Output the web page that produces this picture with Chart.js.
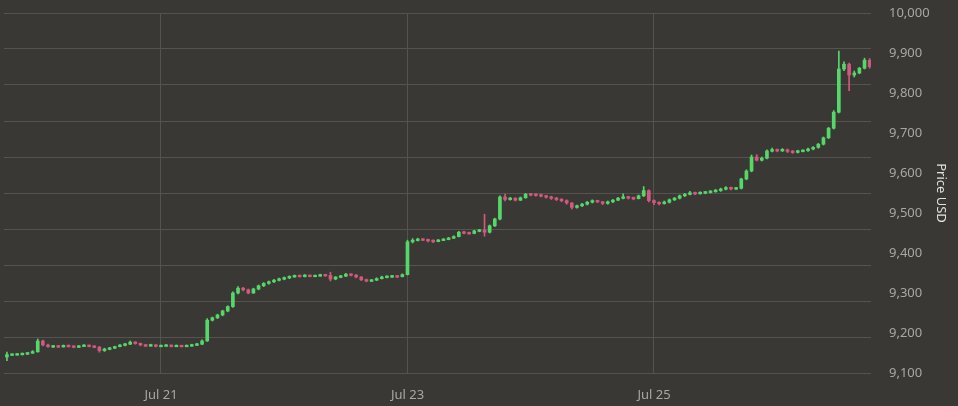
<!DOCTYPE html>
<html>
<head>
<meta charset="utf-8">
<script src="https://cdn.jsdelivr.net/npm/chart.js@4/dist/chart.umd.min.js"></script>
<style>
  html, body { margin: 0; padding: 0; background: #3a3834; }
  #wrap { width: 958px; height: 406px; }
</style>
</head>
<body>
<div id="wrap"><canvas id="chart" width="958" height="406"></canvas></div>
<script>
// hourly candles, first one is Jul 19 18:00 (hours counted from Jul 19 00:00)
const firstHour = 18;

const opens = [
  9140, 9146, 9146, 9147, 9148, 9150, 9153, 9180, 9170, 9166,
  9167, 9166, 9168, 9167, 9165, 9167, 9169, 9167, 9165, 9156,
  9160, 9162, 9166, 9170, 9172, 9177, 9174, 9170, 9168, 9170,
  9167, 9168, 9169, 9167, 9168, 9167, 9168, 9170, 9172, 9180,
  9232, 9238, 9245, 9255, 9266, 9300, 9312, 9308, 9300, 9310,
  9318, 9324, 9328, 9332, 9335, 9338, 9341, 9343, 9342, 9344,
  9342, 9343, 9345, 9344, 9335, 9340, 9342, 9347, 9345, 9340,
  9333, 9330, 9332, 9336, 9340, 9341, 9342, 9341, 9346, 9428,
  9432, 9434, 9433, 9431, 9429, 9432, 9434, 9437, 9441, 9452,
  9450, 9449, 9455, 9457, 9452, 9468, 9485, 9540, 9534, 9537,
  9532, 9538, 9547, 9546, 9545, 9543, 9540, 9537, 9534, 9531,
  9525, 9514, 9518, 9522, 9527, 9531, 9528, 9524, 9528, 9532,
  9537, 9540, 9538, 9536, 9543, 9556, 9531, 9526, 9524, 9527,
  9533, 9537, 9543, 9547, 9550, 9549, 9551, 9552, 9554, 9556,
  9560, 9563, 9561, 9562, 9585, 9605, 9640, 9632, 9637, 9655,
  9658, 9656, 9658, 9654, 9652, 9655, 9656, 9660, 9664, 9672,
  9688, 9712, 9752, 9860, 9872, 9845, 9850, 9862, 9882
];
const highs = [
  9152, 9148, 9149, 9150, 9151, 9156, 9185, 9182, 9172, 9169,
  9169, 9170, 9170, 9168, 9169, 9171, 9170, 9168, 9166, 9162,
  9164, 9167, 9171, 9174, 9180, 9178, 9175, 9171, 9172, 9171,
  9170, 9171, 9170, 9170, 9169, 9170, 9172, 9174, 9183, 9236,
  9240, 9247, 9257, 9268, 9303, 9316, 9314, 9310, 9312, 9320,
  9326, 9330, 9334, 9337, 9340, 9343, 9345, 9345, 9346, 9345,
  9345, 9347, 9347, 9352, 9341, 9344, 9349, 9348, 9346, 9341,
  9335, 9334, 9338, 9342, 9343, 9344, 9344, 9348, 9432, 9436,
  9437, 9436, 9435, 9433, 9434, 9436, 9439, 9443, 9454, 9454,
  9452, 9457, 9459, 9497, 9470, 9487, 9543, 9547, 9539, 9538,
  9540, 9549, 9549, 9548, 9547, 9544, 9542, 9539, 9536, 9533,
  9526, 9520, 9524, 9529, 9533, 9532, 9529, 9530, 9534, 9539,
  9548, 9542, 9540, 9545, 9566, 9558, 9533, 9528, 9530, 9535,
  9539, 9545, 9549, 9554, 9552, 9553, 9554, 9556, 9559, 9562,
  9566, 9565, 9564, 9587, 9608, 9645, 9646, 9640, 9658, 9662,
  9660, 9661, 9660, 9656, 9657, 9658, 9662, 9666, 9674, 9690,
  9714, 9756, 9905, 9878, 9875, 9855, 9864, 9887, 9886
];
const lows = [
  9131, 9144, 9145, 9145, 9146, 9149, 9152, 9168, 9164, 9164,
  9164, 9165, 9165, 9163, 9164, 9166, 9165, 9163, 9152, 9154,
  9158, 9161, 9165, 9168, 9171, 9172, 9168, 9166, 9167, 9165,
  9166, 9167, 9165, 9166, 9165, 9166, 9167, 9169, 9171, 9179,
  9230, 9236, 9243, 9253, 9264, 9298, 9305, 9298, 9299, 9308,
  9316, 9322, 9326, 9330, 9333, 9336, 9339, 9340, 9340, 9340,
  9341, 9342, 9342, 9330, 9333, 9338, 9341, 9343, 9338, 9331,
  9328, 9329, 9331, 9335, 9338, 9339, 9339, 9340, 9345, 9425,
  9430, 9431, 9428, 9426, 9428, 9431, 9433, 9436, 9440, 9448,
  9447, 9448, 9453, 9442, 9450, 9466, 9483, 9530, 9532, 9530,
  9531, 9537, 9543, 9542, 9540, 9537, 9534, 9531, 9528, 9522,
  9510, 9512, 9516, 9520, 9525, 9526, 9521, 9522, 9526, 9531,
  9535, 9535, 9533, 9535, 9541, 9528, 9521, 9520, 9522, 9525,
  9531, 9535, 9541, 9545, 9546, 9547, 9548, 9550, 9552, 9554,
  9558, 9558, 9559, 9560, 9583, 9603, 9630, 9630, 9635, 9653,
  9653, 9654, 9651, 9649, 9650, 9653, 9654, 9658, 9662, 9670,
  9686, 9710, 9750, 9856, 9806, 9840, 9848, 9860, 9862
];
const closes = [
  9146, 9146, 9147, 9148, 9150, 9153, 9180, 9170, 9166, 9167,
  9166, 9168, 9167, 9165, 9167, 9169, 9167, 9165, 9156, 9160,
  9162, 9166, 9170, 9172, 9177, 9174, 9170, 9168, 9170, 9167,
  9168, 9169, 9167, 9168, 9167, 9168, 9170, 9172, 9180, 9232,
  9238, 9245, 9255, 9266, 9300, 9312, 9308, 9300, 9310, 9318,
  9324, 9328, 9332, 9335, 9338, 9341, 9343, 9342, 9344, 9342,
  9343, 9345, 9344, 9335, 9340, 9342, 9347, 9345, 9340, 9333,
  9330, 9332, 9336, 9340, 9341, 9342, 9341, 9346, 9428, 9432,
  9434, 9433, 9431, 9429, 9432, 9434, 9437, 9441, 9452, 9450,
  9449, 9455, 9457, 9452, 9468, 9485, 9540, 9534, 9537, 9532,
  9538, 9547, 9546, 9545, 9543, 9540, 9537, 9534, 9531, 9525,
  9514, 9518, 9522, 9527, 9531, 9528, 9524, 9528, 9532, 9537,
  9540, 9538, 9536, 9543, 9556, 9531, 9526, 9524, 9527, 9533,
  9537, 9543, 9547, 9550, 9549, 9551, 9552, 9554, 9556, 9560,
  9563, 9561, 9562, 9585, 9605, 9640, 9632, 9637, 9655, 9658,
  9656, 9658, 9654, 9652, 9655, 9656, 9660, 9664, 9672, 9688,
  9712, 9752, 9860, 9872, 9845, 9850, 9862, 9882, 9866
];

const dateTicks = [48, 96, 144];
const dateLabels = ['Jul 21', 'Jul 23', 'Jul 25'];

const upColor = '#55d86a';
const downColor = '#d2587f';
const gridColor = '#55534e';
const textColor = '#a9a7a1';

const hours = closes.map((_, i) => firstHour + i);
const colors = closes.map((c, i) => c >= opens[i] ? upColor : downColor);

const wicks = hours.map((h, i) => ({ x: h, y: [lows[i], highs[i]] }));
const bodies = hours.map((h, i) => {
    let lo = Math.min(opens[i], closes[i]);
    let hi = Math.max(opens[i], closes[i]);
    if (hi - lo < 4) { const mid = (hi + lo) / 2; hi = mid + 2; lo = mid - 2; } // keep flat candles visible
    return { x: h, y: [lo, hi] };
});

const bgPlugin = {
    id: 'bg',
    beforeDraw(chart) {
        const ctx = chart.ctx;
        ctx.save();
        ctx.fillStyle = '#3a3834';
        ctx.fillRect(0, 0, chart.width, chart.height);
        ctx.restore();
    }
};

const noPad = (scale) => {
    scale.paddingTop = 0;
    scale.paddingBottom = 0;
    scale.paddingLeft = 0;
    scale.paddingRight = 0;
};

Chart.defaults.font.family = '"Noto Sans", sans-serif';
Chart.defaults.font.size = 13;

new Chart(document.getElementById('chart').getContext('2d'), {
    type: 'bar',
    data: {
        datasets: [
            {
                data: bodies,
                backgroundColor: colors,
                barThickness: 3,
                grouped: false,
                order: 1,
            },
            {
                data: wicks,
                backgroundColor: colors,
                barThickness: 1,
                grouped: false,
                order: 2,
            },
        ],
    },
    options: {
        responsive: false,
        animation: false,
        layout: { padding: { top: 13, left: 4, right: 0, bottom: 0 } },
        plugins: {
            legend: { display: false },
            tooltip: { enabled: false },
        },
        scales: {
            x: {
                type: 'linear',
                offset: false,
                min: 17.43,
                max: 186.26,
                grid: { color: gridColor, drawTicks: false, offset: false },
                border: { display: false },
                afterBuildTicks: (scale) => {
                    scale.ticks = dateTicks.map(v => ({ value: v }));
                },
                afterFit: (scale) => { scale.height = 33; noPad(scale); },
                ticks: {
                    color: textColor,
                    padding: 14,
                    maxRotation: 0,
                    callback: (v) => dateLabels[dateTicks.indexOf(v)],
                },
            },
            y: {
                position: 'right',
                min: 9100,
                max: 10000,
                grid: { display: false },
                border: { display: false },
                afterFit: (scale) => { scale.width = 87; noPad(scale); },
                ticks: { color: textColor, stepSize: 100, padding: 10 },
                title: {
                    display: true,
                    text: 'Price USD',
                    color: '#e2e0da',
                    font: { size: 13 },
                    padding: { top: 9, bottom: 0 },
                },
            },
            g: {
                position: 'left',
                min: 0,
                max: 10,
                grid: { color: gridColor, drawTicks: false },
                border: { display: false },
                ticks: { display: false, stepSize: 1 },
                afterFit: (scale) => { scale.width = 0; noPad(scale); },
            },
        },
    },
    plugins: [bgPlugin],
});
</script>
</body>
</html>
